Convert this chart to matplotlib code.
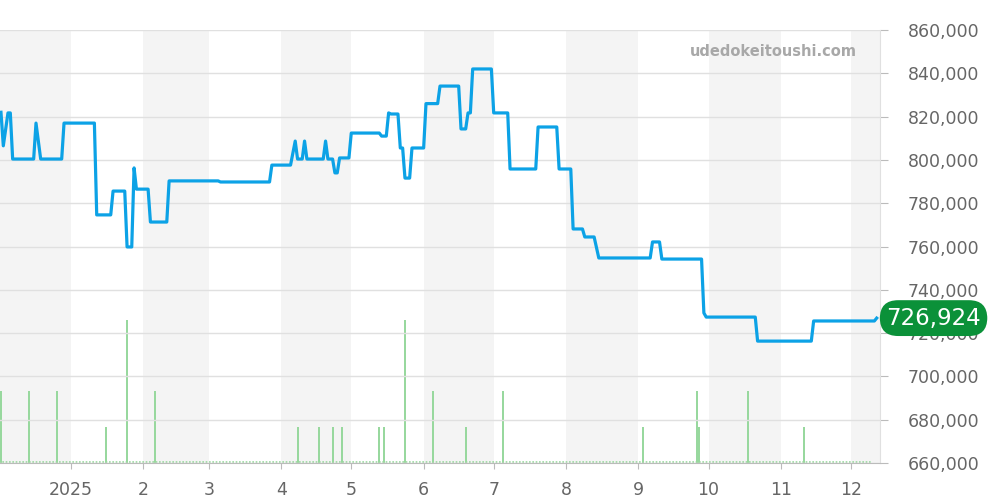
import matplotlib
matplotlib.use("Agg")
import matplotlib.pyplot as plt
import pandas as pd
from datetime import datetime

# price history
price_dates = [
    "2024-12-02", "2024-12-03", "2024-12-05", "2024-12-06", "2024-12-07",
    "2024-12-16", "2024-12-17", "2024-12-19", "2024-12-28", "2024-12-29",
    "2025-01-11", "2025-01-12", "2025-01-18", "2025-01-19", "2025-01-24",
    "2025-01-25", "2025-01-27", "2025-01-28", "2025-01-29", "2025-02-03",
    "2025-02-04", "2025-02-11", "2025-02-12", "2025-03-05", "2025-03-06",
    "2025-03-27", "2025-03-28", "2025-04-05", "2025-04-07", "2025-04-08",
    "2025-04-10", "2025-04-11", "2025-04-12", "2025-04-19", "2025-04-20",
    "2025-04-21", "2025-04-23", "2025-04-24", "2025-04-25", "2025-04-26",
    "2025-04-30", "2025-05-01", "2025-05-13", "2025-05-14", "2025-05-16",
    "2025-05-17", "2025-05-18", "2025-05-21", "2025-05-22", "2025-05-23",
    "2025-05-24", "2025-05-26", "2025-05-27", "2025-06-01", "2025-06-02",
    "2025-06-07", "2025-06-08", "2025-06-16", "2025-06-17", "2025-06-19",
    "2025-06-20", "2025-06-21", "2025-06-22", "2025-06-30", "2025-07-01",
    "2025-07-07", "2025-07-08", "2025-07-19", "2025-07-20", "2025-07-28",
    "2025-07-29", "2025-08-03", "2025-08-04", "2025-08-08", "2025-08-09",
    "2025-08-13", "2025-08-15", "2025-09-06", "2025-09-07", "2025-09-10",
    "2025-09-11", "2025-09-28", "2025-09-29", "2025-09-30", "2025-10-21",
    "2025-10-22", "2025-11-14", "2025-11-15", "2025-12-11", "2025-12-12",
]
price_values = [
    822000, 806500, 821700, 821700, 800400,
    800400, 817000, 800400, 800400, 817000,
    817000, 774600, 774600, 785600, 785600,
    759800, 759800, 796300, 786500, 786500,
    771300, 771300, 790300, 790300, 789800,
    789800, 797600, 797600, 808700, 800400,
    800400, 808700, 800400, 800400, 808700,
    800400, 800400, 794000, 794000, 800900,
    800900, 812400, 812400, 811000, 811000,
    821700, 821200, 821200, 805500, 805500,
    791600, 791600, 805500, 805500, 826000,
    826000, 834100, 834100, 814300, 814300,
    821700, 821700, 842000, 842000, 821700,
    821700, 795800, 795800, 815200, 815200,
    795800, 795800, 768100, 768100, 764400,
    764400, 754700, 754700, 762100, 762100,
    754200, 754200, 729300, 727400, 727400,
    716300, 716300, 725600, 725600, 726924,
]

# trade counts (green bars)
volume_dates = [
    "2024-12-02", "2024-12-14", "2024-12-26", "2025-01-16", "2025-01-25",
    "2025-02-06", "2025-04-08", "2025-04-17", "2025-04-23", "2025-04-27",
    "2025-05-13", "2025-05-15", "2025-05-24", "2025-06-05", "2025-06-19",
    "2025-07-05", "2025-09-03", "2025-09-26", "2025-09-27", "2025-10-18",
    "2025-11-11",
]
volume_values = [2, 2, 2, 1, 4, 2, 1, 1, 1, 1, 1, 1, 4, 2, 1, 2, 1, 2, 1, 2, 1]

month_ticks = ["2025-01-01", "2025-02-01", "2025-03-01", "2025-04-01", "2025-05-01",
               "2025-06-01", "2025-07-01", "2025-08-01", "2025-09-01", "2025-10-01",
               "2025-11-01", "2025-12-01"]
month_labels = ["2025", "2", "3", "4", "5", "6", "7", "8", "9", "10", "11", "12"]
shaded_months = ["2024-12", "2025-02", "2025-04", "2025-06", "2025-08", "2025-10", "2025-12"]

last_label = "726,924"
watermark = "udedokeitoushi.com"

px = pd.to_datetime(price_dates)
vx = pd.to_datetime(volume_dates)
x0 = datetime(2024, 12, 1, 14)
x1 = datetime(2025, 12, 13, 10)

fig = plt.figure(figsize=(10, 5), dpi=100)
ax = fig.add_axes([0.0, 0.074, 0.88, 0.866])
ax_v = ax.twinx()
ax.set_zorder(ax_v.get_zorder() + 1)
ax.patch.set_visible(False)

# alternating month shading on the back axis
for m in shaded_months:
    start = pd.Timestamp(m + "-01")
    end = start + pd.offsets.MonthBegin(1)
    ax_v.axvspan(start, end, color="#f4f4f4", lw=0, zorder=0)

# volume bars
ax_v.bar(vx, volume_values, width=0.85, color="#98d89e", zorder=2)
ax_v.plot([datetime(2024, 12, 1), datetime(2025, 12, 10)], [0.03, 0.03],
          ls=(0, (1, 1)), color="#98d89e", lw=1.2, zorder=2)
ax_v.set_ylim(0, 12.1)
ax_v.set_yticks([])
ax_v.set_xlim(x0, x1)

# price line
ax.plot(px, price_values, color="#0ca2e6", lw=2.3, solid_joinstyle="round", zorder=5)
ax.set_xlim(x0, x1)
ax.set_ylim(660000, 860000)

yt = list(range(660000, 860001, 20000))
ax.set_yticks(yt)
ax.set_yticklabels([f"{v:,}" for v in yt])
ax.yaxis.tick_right()
ax.grid(axis="y", color="#e0e0e0", lw=1)
ax.tick_params(axis="y", length=6, pad=14, color="#bbbbbb", labelcolor="#666666", labelsize=12.5)

ax.set_xticks(pd.to_datetime(month_ticks))
ax.set_xticklabels(month_labels)
ax.tick_params(axis="x", length=4, pad=9, color="#bbbbbb", labelcolor="#666666", labelsize=12.5)

for s in ["top", "left"]:
    ax.spines[s].set_visible(False)
    ax_v.spines[s].set_visible(False)
ax.spines["right"].set_color("#e0e0e0")
ax.spines["bottom"].set_color("#bbbbbb")
ax_v.spines["right"].set_visible(False)
ax_v.spines["bottom"].set_visible(False)

# watermark
ax.text(0.974, 0.951, watermark, transform=ax.transAxes, ha="right", va="center",
        fontsize=10.5, fontweight="bold", color="#a8a8a8", zorder=6)

# last value badge
ax.annotate(last_label, xy=(1.0, price_values[-1]), xycoords=("axes fraction", "data"),
            xytext=(4.5, 0), textcoords="offset points", ha="left", va="center",
            fontsize=16.5, color="white", zorder=10, annotation_clip=False,
            bbox=dict(boxstyle="round,pad=0.28,rounding_size=0.8", fc="#0b9139", ec="none"))

fig.savefig("out.png", dpi=100)
